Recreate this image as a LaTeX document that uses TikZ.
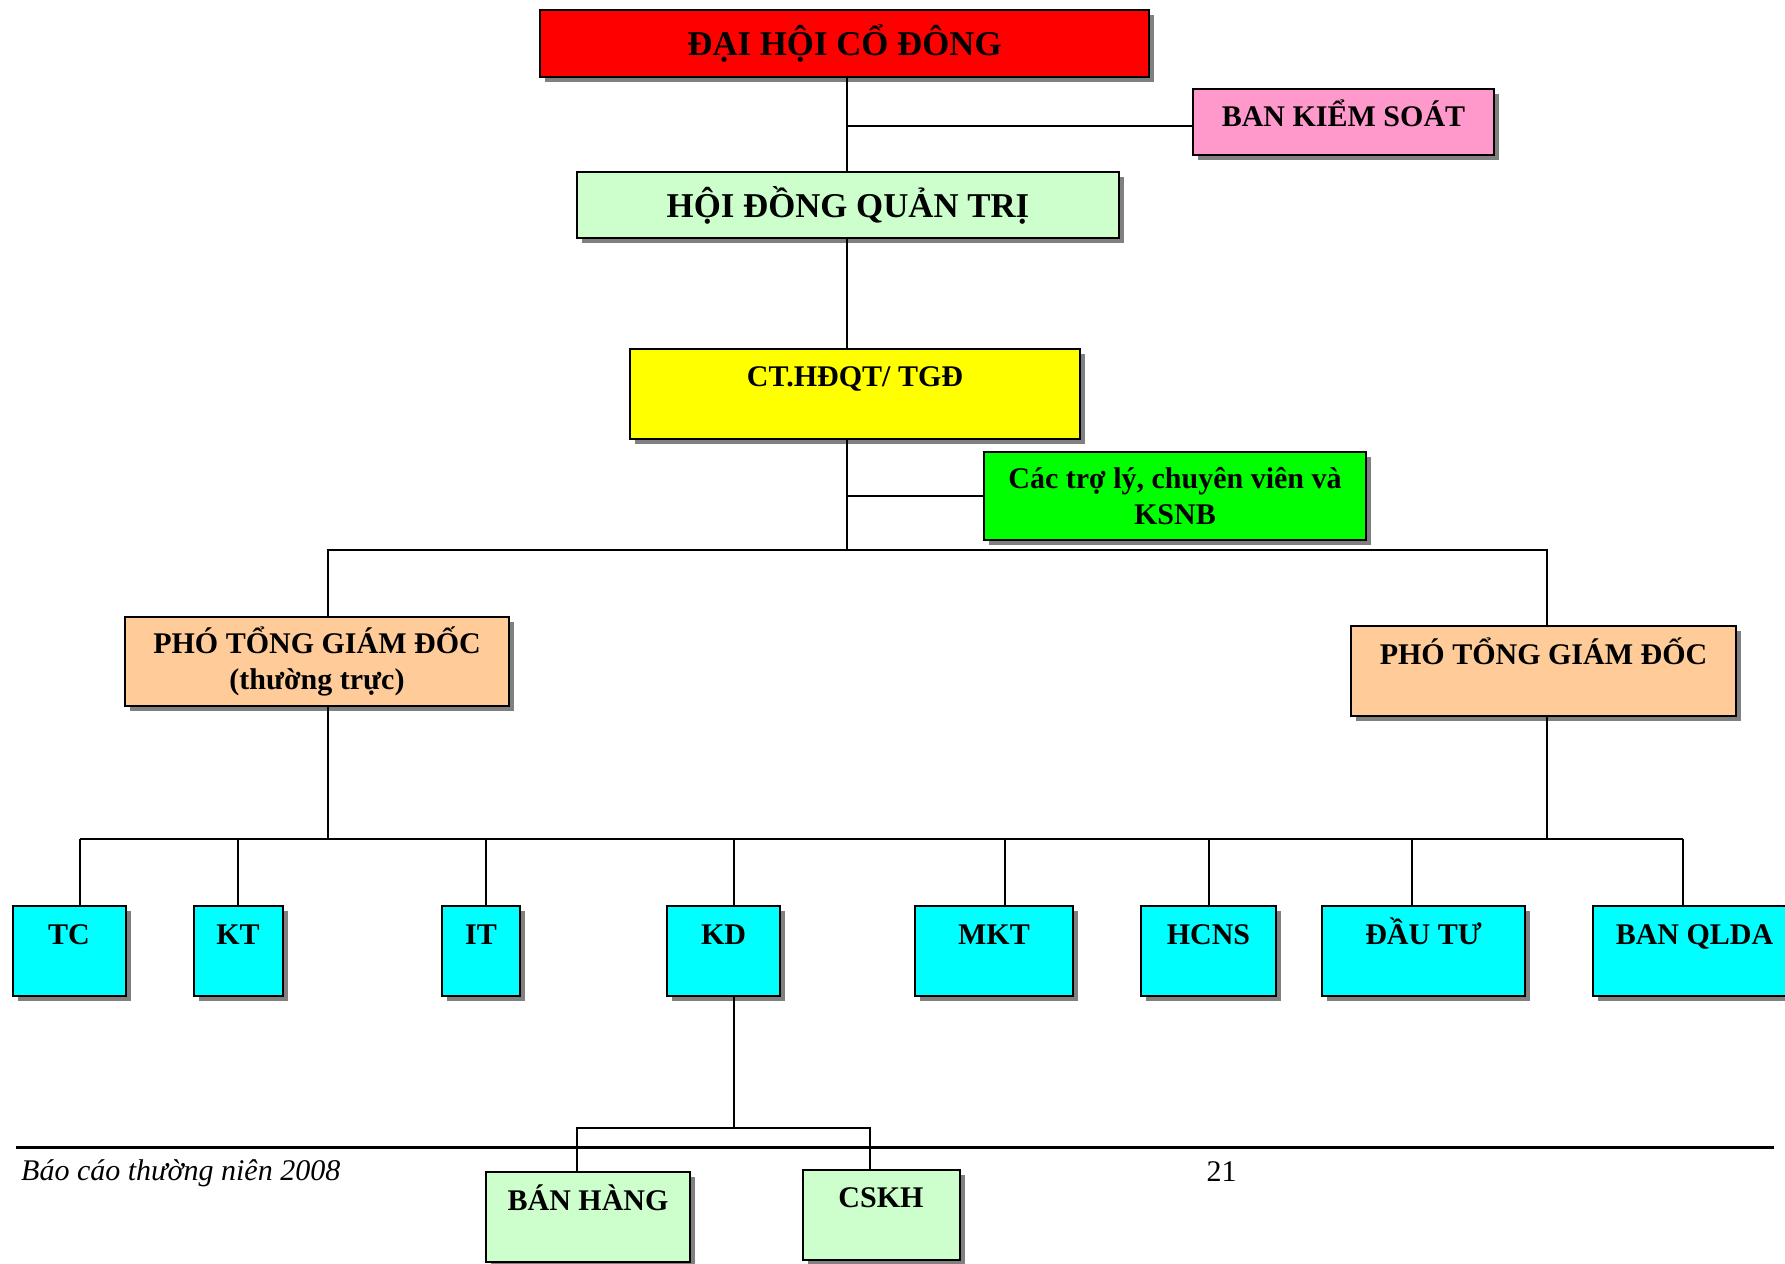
\documentclass[tikz,border=0pt]{standalone}
\usepackage{fontspec}
\setmainfont{Liberation Serif}
\usetikzlibrary{shadows}

\definecolor{dhred}{HTML}{FF0000}
\definecolor{bkspink}{HTML}{FF99CC}
\definecolor{palegreen}{HTML}{CCFFCC}
\definecolor{ctyellow}{HTML}{FFFF00}
\definecolor{trogreen}{HTML}{00FF00}
\definecolor{peach}{HTML}{FFCC99}
\definecolor{phongcyan}{HTML}{00FFFF}
\definecolor{shadowgray}{HTML}{808080}

\begin{document}
\begin{tikzpicture}[x=0.5pt,y=-0.5pt,line width=.75pt,
  box/.style={draw=black,line width=1pt,inner sep=0pt,align=center,
    font=\bfseries\fontsize{15}{18}\selectfont,
    drop shadow={shadow xshift=2.5pt,shadow yshift=-2.5pt,fill=shadowgray,opacity=1}},
  topbox/.style={box,text height=19pt,text depth=26pt},
  big/.style={font=\bfseries\fontsize{17.4}{20}\selectfont}]
   \useasboundingbox (0,0) rectangle (1785,1264);
   % upper levels
   \node[box,big,fill=dhred,minimum width=304.5pt,minimum height=33.5pt] (dhcd) at (844.5,43.5) {ĐẠI HỘI CỔ ĐÔNG};
   \node[box,fill=bkspink,minimum width=150.5pt,text height=18.5pt,text depth=14.5pt] (bks) at (1343.5,122) {BAN KIỂM SOÁT};
   \node[box,big,fill=palegreen,minimum width=271pt,minimum height=33pt] (hdqt) at (848,205) {HỘI ĐỒNG QUẢN TRỊ};
   \node[topbox,fill=ctyellow,minimum width=225pt] (ct) at (855,393.5) {CT.HĐQT/ TGĐ};
   \node[box,fill=trogreen,minimum width=191pt,minimum height=44pt] (troly) at (1175,496) {Các trợ lý, chuyên viên và\\KSNB};
   \node[box,fill=peach,minimum width=192pt,minimum height=44.5pt] (ptgdL) at (317,661.5) {PHÓ TỔNG GIÁM ĐỐC\\(thường trực)};
   \node[topbox,fill=peach,minimum width=192.5pt] (ptgdR) at (1543.5,671) {PHÓ TỔNG GIÁM ĐỐC};
   % departments
   \foreach \name/\cx/\w/\txt in {tc/69/113/TC, kt/238/89/KT, it/481/78/IT, kd/723.5/113/KD,
       mkt/994/158/MKT, hcns/1208.5/135/HCNS, dautu/1423.5/203/ĐẦU TƯ, qlda/1694.5/203/BAN QLDA}
     \node[topbox,fill=phongcyan,minimum width=\w*0.5pt] (\name) at (\cx,951) {\txt};
   \node[topbox,fill=palegreen,minimum width=102pt] (banhang) at (588,1217) {BÁN HÀNG};
   \node[topbox,fill=palegreen,minimum width=78.5pt] (cskh) at (881,1214.5) {CSKH};
   % connectors
   \coordinate (trunk) at (847,0);
   \coordinate (bus) at (0,550);
   \coordinate (lbus) at (0,839);
   \coordinate (kdbus) at (0,1128);
   \coordinate (ldrop) at (328,0);
   \coordinate (rdrop) at (1547,0);
   \draw (dhcd.south -| trunk) -- (hdqt.north -| trunk);
   \draw ([yshift=-2pt]bks.west) -- ([yshift=-2pt]bks.west -| trunk);
   \draw (hdqt.south -| trunk) -- (ct.north -| trunk);
   \draw (ct.south -| trunk) -- (bus -| trunk);
   \draw (troly.west) -- (troly.west -| trunk);
   \draw (ptgdL.north -| ldrop) -- (bus -| ldrop) -- (bus -| rdrop) -- (ptgdR.north -| rdrop);
   \draw (ptgdL.south -| ldrop) -- (lbus -| ldrop);
   \draw (ptgdR.south -| rdrop) -- (lbus -| rdrop);
   \draw ([xshift=5.5pt]tc.north |- lbus) -- ([xshift=-5.75pt]qlda.north |- lbus);
   \foreach \name/\dx in {tc/5.5pt, kt/0pt, it/2.5pt, kd/5.25pt, mkt/5.5pt, hcns/0.25pt, dautu/-5.75pt, qlda/-5.75pt}
     \draw ([xshift=\dx]\name.north) -- ([xshift=\dx]\name.north |- lbus);
   \draw ([xshift=5.25pt]kd.south) -- ([xshift=5.25pt]kd.south |- kdbus);
   \draw ([xshift=-5.5pt]banhang.north) -- ([xshift=-5.5pt]banhang.north |- kdbus)
     -- ([xshift=-5.5pt]cskh.north |- kdbus) -- ([xshift=-5.5pt]cskh.north);
   % page footer
   \coordinate (footL) at (16,1147.5);
   \coordinate (footR) at (1774,1147.5);
   \draw[line width=1.25pt] (footL) -- (footR);
   \node[anchor=west,inner sep=0pt,font=\itshape\fontsize{15}{18}\selectfont] (report) at (20.5,1173.5) {Báo cáo thường niên 2008};
   \node[inner sep=0pt,font=\fontsize{15}{18}\selectfont] (pageno) at (1221.5,1172) {21};
\end{tikzpicture}
\end{document}
